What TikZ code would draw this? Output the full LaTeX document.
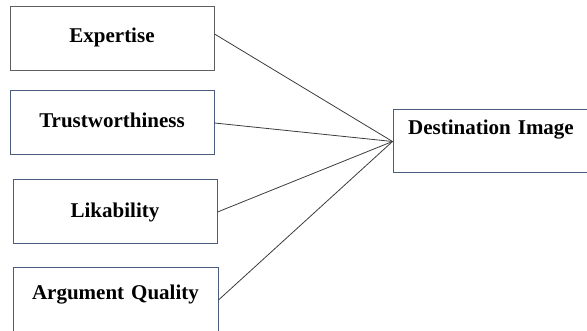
\documentclass[tikz,border=0pt]{standalone}
\usepackage{fontspec}
\setmainfont{Liberation Serif}
\definecolor{edgegray}{RGB}{95,95,95}
\definecolor{edgeblue}{RGB}{75,92,125}
\definecolor{linkgray}{RGB}{60,60,60}
\tikzstyle{factor} = [draw, 
line width=1pt, inner sep=0pt, text width=204pt, align=center,
font=\bfseries\fontsize{21}{25}\selectfont]
\tikzstyle{link} = [draw, 
line width=0.8pt, 
color=linkgray]

\begin{document}
\begin{tikzpicture}[x=1pt, y=1pt]
    \useasboundingbox (0,0) rectangle (587,331);
    \clip (0,0) rectangle (587,331);
    %% Sources
    \node [factor, draw=edgegray, anchor=base, text height=36pt, text depth=28pt] (Exp) at (112,288) {Expertise};
    \node [factor, draw=edgeblue, anchor=base, text height=37pt, text depth=27pt] (Trust) at (112,203) {Trustworthiness};
    \node [factor, draw=edgeblue, anchor=base, text height=38pt, text depth=26pt] (Lik) at (115,113) {Likability};
    \node [factor, draw=edgeblue, anchor=base, text width=205pt, text height=32pt, text depth=32pt] (Arg) at (115.5,31) {Argument Quality};
    %% Outcome
    \node [factor, draw=edgeblue, anchor=base, text width=196pt, text height=25pt, text depth=38pt] (DI) at (491,196) {Destination Image};
    %% Links
    \path [link] ([yshift=5pt]Exp.east) to (DI.west);
    \path [link] (Trust.east) to (DI.west);
    \path [link] (Lik.east) to (DI.west);
    \path [link] (Arg.east) to (DI.west);
\end{tikzpicture}
\end{document}
